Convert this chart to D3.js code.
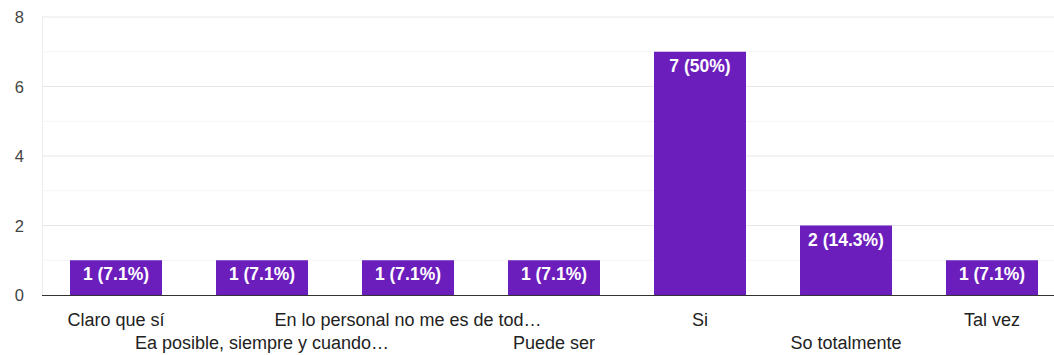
<!DOCTYPE html>
<html><head><meta charset="utf-8">
<script src="https://cdn.jsdelivr.net/npm/d3@7"></script>
<style>body{margin:0;background:#fff;}svg{display:block;font-family:Arial,"Liberation Sans",sans-serif;}</style>
</head><body>
<svg id="c" width="1054" height="355"></svg>
<script>
const categories = ["Claro que sí","Ea posible, siempre y cuando…","En lo personal no me es de tod…","Puede ser","Si","So totalmente","Tal vez"];
const values = [1,1,1,1,7,2,1];
const valueLabels = ["1 (7.1%)","1 (7.1%)","1 (7.1%)","1 (7.1%)","7 (50%)","2 (14.3%)","1 (7.1%)"];
const yTicks = [0,2,4,6,8];

const svg = d3.select("#c");
const x = d3.scaleBand().domain(categories).range([43,1065]).paddingInner(0.37).paddingOuter(0.185);
const y = d3.scaleLinear().domain([0,8]).range([295,17]);

// gridlines
svg.append("g").selectAll("line").data(yTicks.filter(d=>d>0)).join("line")
  .attr("x1",42).attr("x2",1054).attr("y1",d=>y(d)).attr("y2",d=>y(d))
  .attr("stroke","#e8e8e8").attr("stroke-width",1);
// minor gridlines
svg.append("g").selectAll("line").data([1,3,5,7]).join("line")
  .attr("x1",42).attr("x2",1054).attr("y1",d=>y(d)).attr("y2",d=>y(d))
  .attr("stroke","#f5f5f5").attr("stroke-width",1);
svg.append("line").attr("x1",42.5).attr("x2",42.5).attr("y1",y(8)).attr("y2",y(0)).attr("stroke","#ececec");

// y axis labels
svg.append("g").selectAll("text").data(yTicks).join("text")
  .attr("x",24).attr("y",d=>y(d)+6).attr("text-anchor","end")
  .attr("font-size",16.5).attr("fill","#444").text(d=>d);

// bars
svg.append("g").selectAll("rect").data(categories).join("rect")
  .attr("x",d=>x(d)).attr("width",x.bandwidth())
  .attr("y",(d,i)=>y(values[i])).attr("height",(d,i)=>y(0)-y(values[i]))
  .attr("fill","#6c1ebd");

// value labels
svg.append("g").selectAll("text").data(categories).join("text")
  .attr("x",d=>x(d)+x.bandwidth()/2).attr("y",(d,i)=>y(values[i])+20)
  .attr("text-anchor","middle").attr("font-size",17.5).attr("font-weight","bold").attr("fill","#fff")
  .text((d,i)=>valueLabels[i]);

// baseline
svg.append("line").attr("x1",42).attr("x2",1054).attr("y1",y(0)+0.5).attr("y2",y(0)+0.5).attr("stroke","#333").attr("stroke-width",1.2);

// category labels
svg.append("g").selectAll("text").data(categories).join("text")
  .attr("x",d=>x(d)+x.bandwidth()/2).attr("y",(d,i)=> i%2===0 ? 326 : 349)
  .attr("text-anchor","middle").attr("font-size",18).attr("fill","#222")
  .text(d=>d);
</script>
</body></html>
